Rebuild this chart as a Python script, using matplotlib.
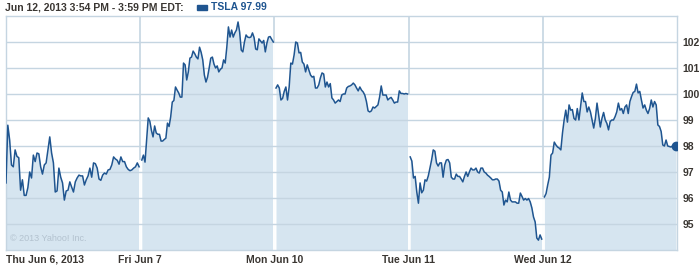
import numpy as np
import matplotlib
matplotlib.use("Agg")
import matplotlib.pyplot as plt
from matplotlib.patches import Rectangle

plt.rcParams['font.family'] = ['Liberation Sans', 'DejaVu Sans']

# TSLA intraday prices, one list per trading day (5-minute-ish samples)
day_labels = ["Thu Jun 6, 2013", "Fri Jun 7", "Mon Jun 10", "Tue Jun 11", "Wed Jun 12"]

thu = [96.58, 98.8, 98.23, 97.27, 97.2, 97.85, 97.6, 97.55, 96.3, 96.7, 96.1, 96.1, 96.4, 97.0,
       96.77, 97.65, 97.4, 97.73, 97.7, 97.2, 96.92, 97.27, 97.35, 97.85, 98.35, 97.73, 97.35,
       96.23, 96.27, 97.15, 96.8, 96.58, 95.92, 96.27, 96.3, 96.62, 96.42, 96.23, 96.62, 96.77,
       96.88, 96.85, 96.85, 96.5, 96.7, 96.85, 97.15, 96.8, 97.35, 97.32, 97.15, 96.73, 96.68,
       96.88, 96.96, 96.92, 97.08, 97.1, 97.27, 97.58, 97.5, 97.45, 97.3, 97.58, 97.4, 97.4,
       97.2, 97.1, 97.05, 97.08, 97.15, 97.2, 97.35, 97.2]
fri = [97.46, 97.65, 97.38, 98.23, 99.08, 98.95, 98.6, 98.35, 98.77, 98.5, 98.45, 98.45, 98.19,
       98.19, 98.25, 98.3, 98.88, 98.75, 99.12, 99.69, 99.75, 100.27, 100.15, 100.04, 99.88, 99.88,
       101.19, 101.12, 100.54, 100.85, 101.38, 101.42, 101.65, 101.55, 101.42, 101.35, 101.8,
       101.6, 101.31, 100.73, 100.46, 100.65, 101.0, 101.38, 101.42, 101.15, 101.0, 101.08,
       100.85, 100.95, 101.0, 101.31, 101.19, 101.8, 102.58, 102.19, 102.46, 102.19, 102.35,
       102.46, 102.77, 102.38, 101.69, 101.62, 102.0, 102.27, 102.19, 102.17, 102.19, 102.35,
       102.17, 101.73, 101.7, 102.12, 102.04, 101.96, 102.06, 101.62, 101.96, 102.19, 102.21,
       102.1, 102.0]
mon = [100.23, 100.35, 100.23, 99.77, 99.83, 100.1, 100.27, 99.77, 100.27, 101.19, 101.15, 101.5,
       102.0, 101.96, 101.58, 101.6, 101.23, 101.15, 100.85, 101.12, 100.92, 100.73, 100.65,
       100.68, 100.23, 100.23, 100.35, 100.62, 100.81, 100.77, 100.27, 100.46, 100.27, 100.4,
       99.85, 99.77, 99.65, 99.71, 99.77, 99.71, 99.96, 100.0, 100.0, 100.23, 100.29, 100.31,
       100.35, 100.42, 100.35, 100.23, 100.12, 100.27, 100.15, 100.08, 99.96, 99.71, 99.35,
       99.31, 99.35, 99.5, 99.46, 99.52, 99.58, 99.88, 100.31, 99.96, 99.96, 99.96, 99.77,
       99.83, 99.87, 99.77, 99.65, 99.69, 99.69, 100.12, 100.02, 100.02, 100.0, 100.02, 100.0]
tue = [97.58, 97.42, 96.77, 96.83, 96.23, 95.8, 96.58, 96.2, 96.3, 96.7, 96.65, 96.85, 97.15,
       97.46, 97.85, 97.8, 97.35, 97.23, 97.35, 97.35, 96.8, 97.27, 97.46, 97.48, 97.35, 96.8,
       96.73, 96.73, 96.92, 96.83, 96.83, 96.73, 96.62, 96.83, 97.0, 96.83, 97.0, 97.15, 97.08,
       97.08, 97.15, 97.0, 96.96, 97.15, 97.15, 97.0, 96.96, 96.88, 96.83, 96.77, 96.7, 96.7,
       96.73, 96.73, 96.65, 96.3, 96.23, 95.73, 95.92, 95.85, 96.23, 95.92, 95.85, 95.85, 95.85,
       95.8, 95.8, 96.19, 96.06, 95.92, 95.98, 95.92, 95.98, 95.85, 95.62, 95.27, 95.08, 94.46,
       94.38, 94.58, 94.42]
wed = [96.04, 96.17, 96.5, 96.8, 97.65, 97.73, 98.15, 98.04, 97.96, 97.92, 97.85, 98.5, 99.0,
       99.38, 98.92, 99.58, 99.38, 99.4, 99.06, 99.0, 99.44, 99.0, 99.52, 100.04, 99.71, 99.71,
       99.31, 99.5, 99.31, 99.0, 98.69, 99.06, 99.65, 99.19, 98.73, 99.06, 99.29, 99.0, 98.87,
       98.62, 98.94, 99.0, 99.0, 99.13, 99.31, 99.65, 99.38, 99.44, 99.25, 99.5, 99.58, 99.25,
       99.71, 99.9, 100.06, 100.1, 100.38, 100.04, 100.1, 99.77, 99.46, 99.58, 99.38, 99.25,
       99.44, 99.77, 99.5, 99.71, 99.58, 98.81, 98.75, 98.56, 98.04, 98.0, 98.23, 98.0, 97.98,
       97.96, 98.0, 97.96, 97.99]
days = [thu, fri, mon, tue, wed]

y_ticks = [95, 96, 97, 98, 99, 100, 101, 102]
last_price = wed[-1]

line_col = "#1f5590"
fill_col = "#d6e5f0"
grid_col = "#c5d5e1"
text_col = "#3a3632"

fig = plt.figure(figsize=(7, 2.65), dpi=100)
ax = fig.add_axes([6 / 700, 15 / 265, 671 / 700, 234 / 265])
ax.set_xlim(0, len(days))
ax.set_ylim(94, 103)

ymin = 94
for d, vals in enumerate(days):
    start = d + (0.0 if d == 0 else 0.012)
    x = np.linspace(start, d + 0.992, len(vals))
    ax.fill_between(x, ymin, vals, color=fill_col, lw=0, zorder=1)
    ax.plot(x, vals, color=line_col, lw=1.1, zorder=3, solid_joinstyle="round")

# day separators: grey above the area, white gap through it
for d in range(1, len(days)):
    ax.axvline(d, color=grid_col, lw=1.2, zorder=0)
    top = max(days[d - 1][-1], days[d][0])
    ax.vlines(d, ymin, top, color="white", lw=1.4, zorder=2)

for v in y_ticks:
    ax.axhline(v, color=grid_col, lw=1.0, zorder=2)

ax.plot([len(days) - 0.004], [last_price], "o", color=line_col, ms=6, zorder=4)

for s in ax.spines.values():
    s.set_color(grid_col)
    s.set_linewidth(1.0)

ax.set_xticks([])
ax.yaxis.tick_right()
ax.set_yticks(y_ticks)
ax.set_yticklabels([str(v) for v in y_ticks], fontsize=7.5, fontweight="bold",
                   color=text_col)
ax.tick_params(axis="y", length=0, pad=4)

# day labels under the axis
for d, lab in enumerate(day_labels):
    if d == 0:
        ax.text(0.003, -0.02, lab, transform=ax.get_xaxis_transform(), ha="left", va="top",
                fontsize=7.5, fontweight="bold", color=text_col)
    else:
        ax.text(d, -0.02, lab, transform=ax.get_xaxis_transform(), ha="center", va="top",
                fontsize=7.5, fontweight="bold", color=text_col)

ax.text(0.006, 0.03, "\u00a9 2013 Yahoo! Inc.", transform=ax.transAxes, fontsize=6.5,
        color="#b3c2cf", ha="left", va="bottom")

fig.text(5 / 700, 1 - 7 / 265, "Jun 12, 2013 3:54 PM - 3:59 PM EDT:", fontsize=7.5,
         fontweight="bold", color=text_col, ha="left", va="center")
fig.patches.append(Rectangle((197 / 700, 1 - 9.5 / 265), 10 / 700, 4.5 / 265,
                             transform=fig.transFigure, color=line_col))
fig.text(211 / 700, 1 - 7 / 265, "TSLA %.2f" % last_price, fontsize=7.5,
         fontweight="bold", color=line_col, ha="left", va="center")

fig.savefig("out.png", dpi=100)
